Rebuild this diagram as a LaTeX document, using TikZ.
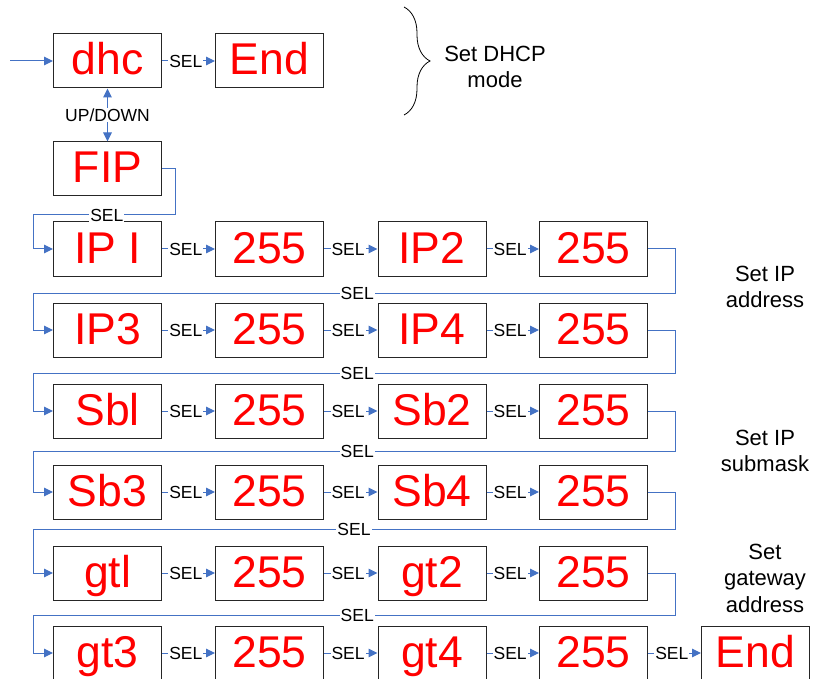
\documentclass[tikz,border=0pt]{standalone}
\usepackage{fontspec}
\setmainfont{Liberation Sans}
\usetikzlibrary{arrows.meta,decorations.pathreplacing}
\definecolor{lnblue}{RGB}{68,114,196}
\begin{document}
\begin{tikzpicture}[x=1pt,y=-1pt,
  box/.style={draw=black!85, line width=1pt, minimum width=108pt, minimum height=54pt,
    inner sep=0pt, text=red, font=\fontsize{44.5}{44.5}\selectfont, text height=28pt, text depth=0pt},
  conn/.style={draw=lnblue, line width=1pt, -{Triangle[length=9pt,width=8.5pt]}},
  lbl/.style={fill=white, inner sep=1pt, font=\fontsize{17.5}{18}\selectfont},
  note/.style={align=center, font=\fontsize{22}{26.5}\selectfont}]

\useasboundingbox (0,0) rectangle (814,679);

% top section
\node[box] (dhc) at (107.5,61) {dhc};
\node[box] (end1) at (269.5,61) {End};
\node[box] (fip) at (107.5,169) {FIP};

% rows
\node[box] (a1) at (107.5,249) {IP I};
\node[box] (a2) at (269.5,249) {255};
\node[box] (a3) at (432,249) {IP2};
\node[box] (a4) at (593.5,249) {255};

\node[box] (b1) at (107.5,330) {IP3};
\node[box] (b2) at (269.5,330) {255};
\node[box] (b3) at (432,330) {IP4};
\node[box] (b4) at (593.5,330) {255};

\node[box] (c1) at (107.5,411) {Sbl};
\node[box] (c2) at (269.5,411) {255};
\node[box] (c3) at (432,411) {Sb2};
\node[box] (c4) at (593.5,411) {255};

\node[box] (d1) at (107.5,492) {Sb3};
\node[box] (d2) at (269.5,492) {255};
\node[box] (d3) at (432,492) {Sb4};
\node[box] (d4) at (593.5,492) {255};

\node[box] (e1) at (107.5,573) {gtl};
\node[box] (e2) at (269.5,573) {255};
\node[box] (e3) at (432,573) {gt2};
\node[box] (e4) at (593.5,573) {255};

\node[box] (g1) at (107.5,653) {gt3};
\node[box] (g2) at (269.5,653) {255};
\node[box] (g3) at (432,653) {gt4};
\node[box] (g4) at (593.5,653) {255};
\node[box] (g5) at (755.5,653) {End};

% entry and top connectors
\coordinate (in) at (10,61);
\draw[conn] (in) -- (dhc);
\draw[conn] (dhc) -- node[lbl, pos=0.45] {SEL} (end1);
\draw[conn, {Triangle[length=9pt,width=8.5pt]}-{Triangle[length=9pt,width=8.5pt]}]
  (dhc) -- node[lbl] {UP/DOWN} (fip);

\coordinate (f1) at (175,215);
\coordinate (f2) at (33,215);
\draw[conn] (fip.east) -| (f1) -- node[lbl, pos=0.48] {SEL} (f2) |- (a1.west);

% in-row connectors
\foreach \r in {a,b,c,d,e,g}{
  \draw[conn] (\r1) -- node[lbl, pos=0.45] {SEL} (\r2);
  \draw[conn] (\r2) -- node[lbl, pos=0.45] {SEL} (\r3);
  \draw[conn] (\r3) -- node[lbl, pos=0.45] {SEL} (\r4);
}
\draw[conn] (g4) -- node[lbl, pos=0.45] {SEL} (g5);

% return connectors
\coordinate (ra) at (675,293); \coordinate (la) at (33,293);
\coordinate (rb) at (675,373); \coordinate (lb) at (33,373);
\coordinate (rc) at (675,451); \coordinate (lc) at (33,451);
\coordinate (rd) at (675,529); \coordinate (ld) at (33,529);
\coordinate (re) at (675,615); \coordinate (le) at (33,615);
\draw[conn] (a4.east) -| (ra) -- node[lbl, pos=0.495] {SEL} (la) |- (b1.west);
\draw[conn] (b4.east) -| (rb) -- node[lbl, pos=0.495] {SEL} (lb) |- (c1.west);
\draw[conn] (c4.east) -| (rc) -- node[lbl, pos=0.495] {SEL} (lc) |- (d1.west);
\draw[conn] (d4.east) -| (rd) -- node[lbl, pos=0.5] {SEL} (ld) |- (e1.west);
\draw[conn] (e4.east) -| (re) -- node[lbl, pos=0.495] {SEL} (le) |- (g1.west);

% brace and notes
\coordinate (bt) at (404,7);
\coordinate (bb) at (404,115);
\draw[decorate, decoration={brace, amplitude=26pt, aspect=0.5}, line width=0.8pt] (bt) -- (bb);

\node[note] (n1) at (495,67) {Set DHCP\\mode};
\node[note] (n2) at (765,287) {Set IP\\address};
\node[note] (n3) at (765,451) {Set IP\\submask};
\node[note] (n4) at (765,578) {Set\\gateway\\address};
\end{tikzpicture}
\end{document}
